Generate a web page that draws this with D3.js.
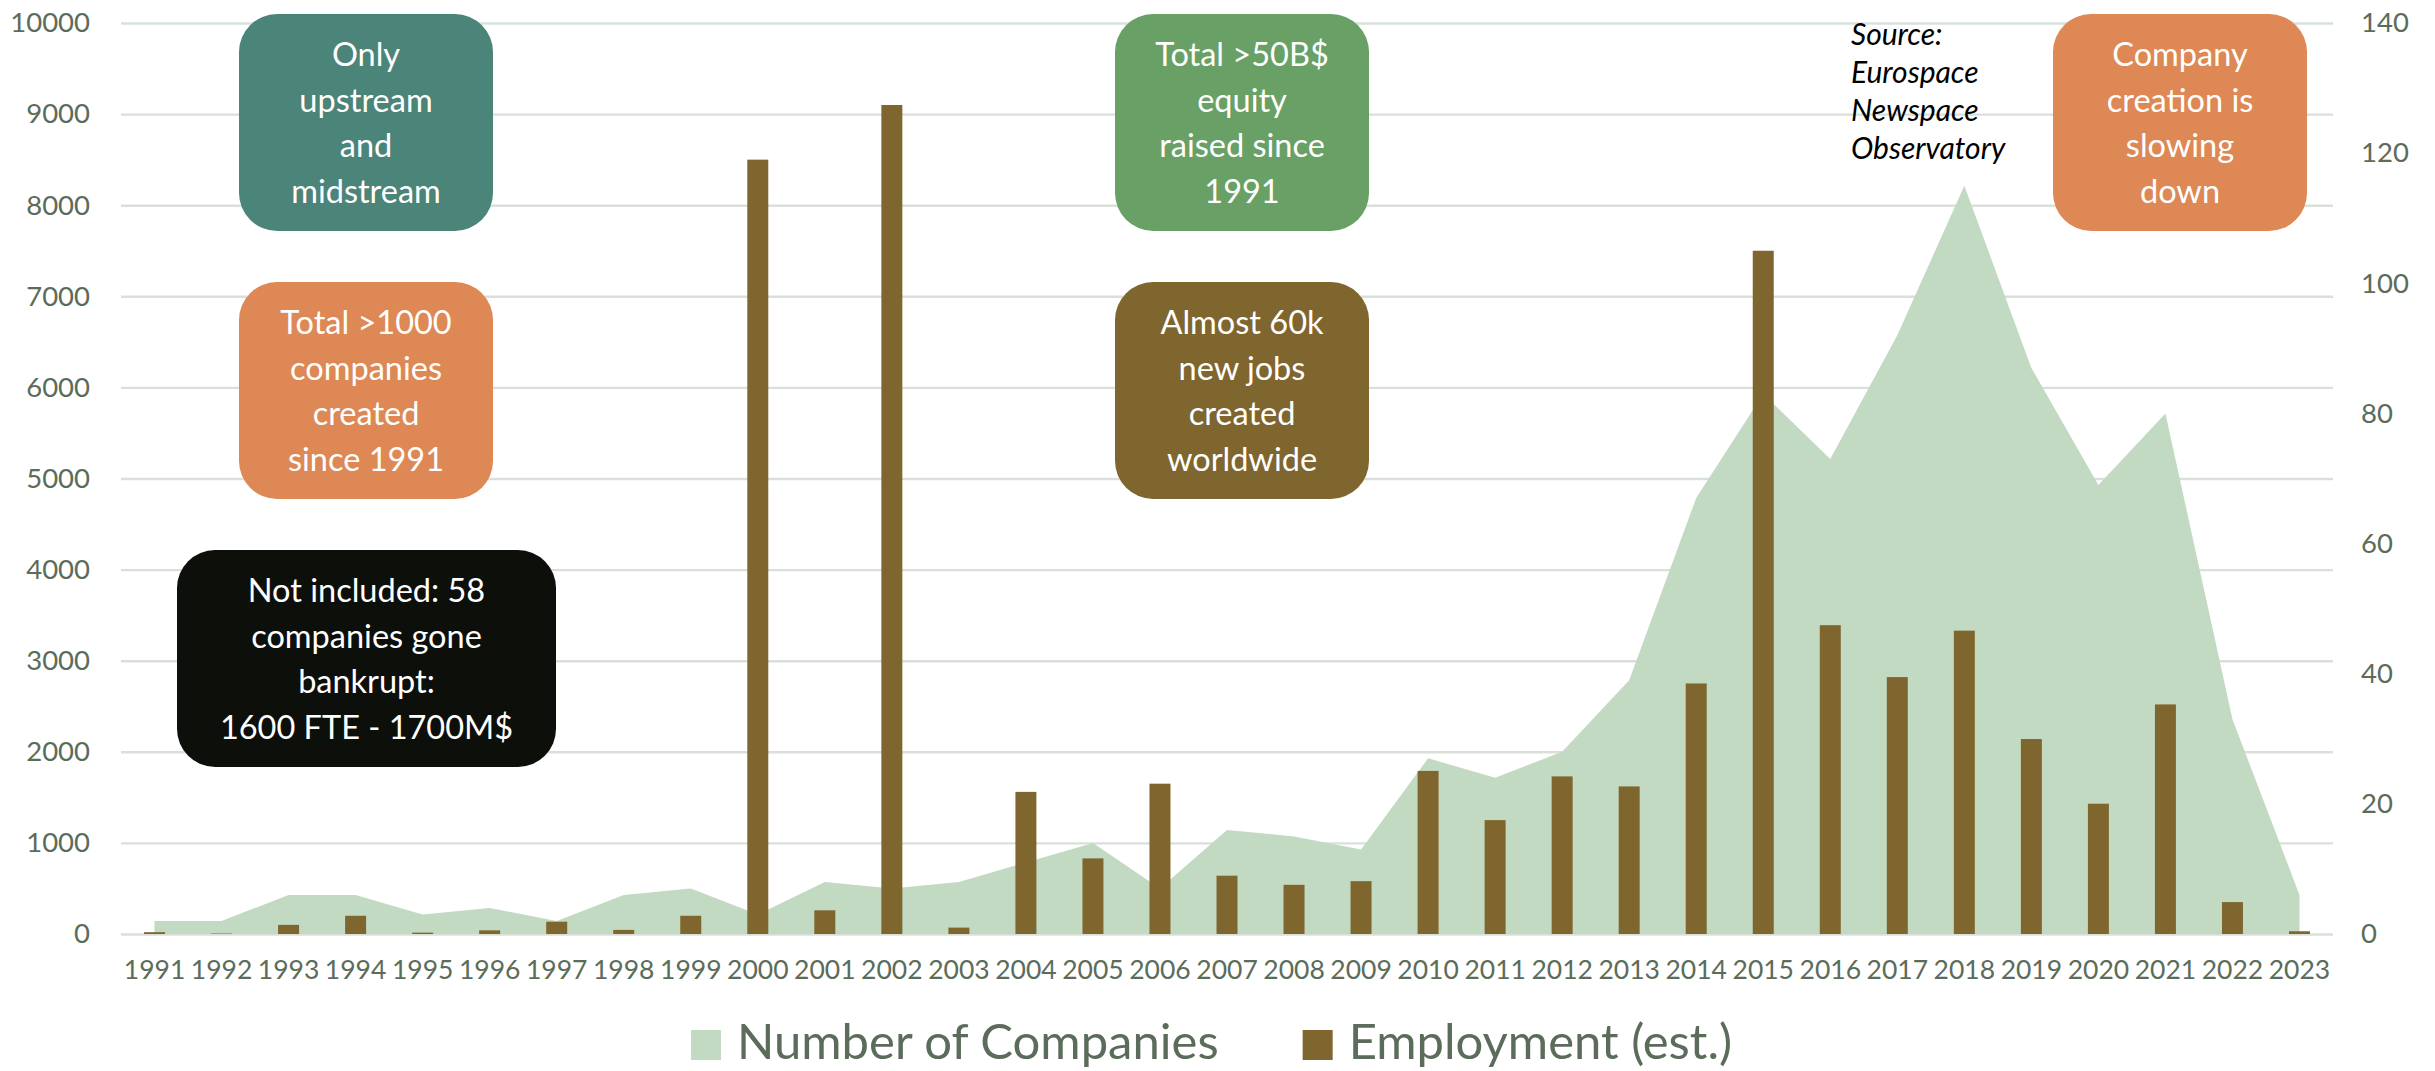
<!DOCTYPE html>
<html>
<head>
<meta charset="utf-8">
<script src="https://cdn.jsdelivr.net/npm/d3@7"></script>
<style>
  html, body { margin: 0; padding: 0; background: #ffffff; }
  svg { display: block; font-family: Lato, "Open Sans", sans-serif; }
</style>
</head>
<body>
<svg id="chart" width="2435" height="1071"></svg>
<script>
// Years on the category axis
const years = [1991, 1992, 1993, 1994, 1995, 1996, 1997, 1998, 1999, 2000,
               2001, 2002, 2003, 2004, 2005, 2006, 2007, 2008, 2009, 2010,
               2011, 2012, 2013, 2014, 2015, 2016, 2017, 2018, 2019, 2020,
               2021, 2022, 2023];

// New companies created per year (right axis)
const companies = [2, 2, 6, 6, 3, 4, 2, 6, 7, 3,
                   8, 7, 8, 11, 14, 7, 16, 15, 13, 27,
                   24, 28, 39, 67, 83, 73, 92, 115, 87, 69,
                   80, 33, 6];

// Estimated employment of those companies (left axis)
const employment = [20, 5, 100, 200, 15, 40, 135, 45, 200, 8500,
                    260, 9100, 70, 1560, 830, 1650, 640, 540, 580, 1790,
                    1250, 1730, 1620, 2750, 7500, 3390, 2820, 3330, 2140, 1430,
                    2520, 350, 30];

// Axis ticks
const leftTicks = [0, 1000, 2000, 3000, 4000, 5000, 6000, 7000, 8000, 9000, 10000];
const rightTicks = [0, 20, 40, 60, 80, 100, 120, 140];

// Series names for the legend
const seriesNames = ["Number of Companies", "Employment (est.)"];

// Call-out texts
const noteOnly = ["Only", "upstream", "and", "midstream"];
const noteTotal = ["Total >1000", "companies", "created", "since 1991"];
const noteBankrupt = ["Not included: 58", "companies gone", "bankrupt:", "1600 FTE - 1700M$"];
const noteEquity = ["Total >50B$", "equity", "raised since", "1991"];
const noteJobs = ["Almost 60k", "new jobs", "created", "worldwide"];
const noteSlowing = ["Company", "creation is", "slowing", "down"];
const sourceLines = ["Source:", "Eurospace", "Newspace", "Observatory"];

// ---- drawing ----
const svg = d3.select("#chart");
const plot = { left: 121, right: 2333, top: 23, bottom: 934 };
const axisColor = "#5c6c5a";
const gridColor = "#d9e0da";
const areaColor = "#c2d9c2";
const barColor = "#7f652e";

const x = d3.scaleBand()
  .domain(years)
  .range([plot.left, plot.right])
  .paddingInner(0.687)
  .paddingOuter(0.3435);
const cx = d => x(d) + x.bandwidth() / 2;

const yLeft = d3.scaleLinear().domain([0, 10000]).range([plot.bottom, plot.top]);
const yRight = d3.scaleLinear().domain([0, 140]).range([plot.bottom, plot.top]);

// Gridlines + left axis labels
const gLeft = svg.append("g")
  .attr("transform", `translate(${plot.left},0)`)
  .call(d3.axisLeft(yLeft).tickValues(leftTicks).tickSize(-(plot.right - plot.left)).tickPadding(31).tickFormat(d3.format("d")));
gLeft.select(".domain").remove();
gLeft.selectAll(".tick line").attr("stroke", gridColor).attr("stroke-width", 2.4);
gLeft.selectAll(".tick text").attr("fill", axisColor).attr("font-size", 27.5).attr("font-family", "Lato, sans-serif");

// Right axis labels
const gRight = svg.append("g")
  .attr("transform", `translate(${plot.right},0)`)
  .call(d3.axisRight(yRight).tickValues(rightTicks).tickSize(0).tickPadding(28).tickFormat(d3.format("d")));
gRight.select(".domain").remove();
gRight.selectAll(".tick text").attr("fill", axisColor).attr("font-size", 27.5).attr("font-family", "Lato, sans-serif");

// Companies area
const area = d3.area()
  .x((d, i) => cx(years[i]))
  .y0(plot.bottom)
  .y1(d => yRight(d));
svg.append("path")
  .datum(companies)
  .attr("d", area)
  .attr("fill", areaColor);

// Employment bars
svg.append("g").selectAll("rect")
  .data(employment)
  .join("rect")
  .attr("x", (d, i) => x(years[i]))
  .attr("width", x.bandwidth())
  .attr("y", d => yLeft(d))
  .attr("height", d => plot.bottom - yLeft(d))
  .attr("fill", barColor);

// Category axis labels
const gX = svg.append("g")
  .attr("transform", `translate(0,${plot.bottom})`)
  .call(d3.axisBottom(x).tickSize(0).tickPadding(26));
gX.select(".domain").remove();
gX.selectAll(".tick text").attr("fill", axisColor).attr("font-size", 26.5).attr("font-family", "Lato, sans-serif");

// Rounded call-out boxes
const boxes = [
  { lines: noteOnly,     fill: "#4b8478", x: 239,  y: 14,  w: 254, h: 217 },
  { lines: noteTotal,    fill: "#dd8855", x: 239,  y: 282, w: 254, h: 217 },
  { lines: noteBankrupt, fill: "#0d0f0b", x: 177,  y: 550, w: 379, h: 217 },
  { lines: noteEquity,   fill: "#68a065", x: 1115, y: 14,  w: 254, h: 217 },
  { lines: noteJobs,     fill: "#7f652e", x: 1115, y: 282, w: 254, h: 217 },
  { lines: noteSlowing,  fill: "#dd8855", x: 2053, y: 14,  w: 254, h: 217 }
];
const lineH = 45.5;
const gBoxes = svg.append("g");
boxes.forEach(b => {
  const g = gBoxes.append("g");
  g.append("rect")
    .attr("x", b.x).attr("y", b.y)
    .attr("width", b.w).attr("height", b.h)
    .attr("rx", 38).attr("ry", 38)
    .attr("fill", b.fill);
  const cy = b.y + b.h / 2;
  g.append("text")
    .attr("fill", "#ffffff")
    .attr("font-size", 32.5)
    .attr("text-anchor", "middle")
    .selectAll("tspan")
    .data(b.lines)
    .join("tspan")
    .attr("x", b.x + b.w / 2)
    .attr("y", (d, i) => cy + (i - (b.lines.length - 1) / 2) * lineH + 12)
    .text(d => d);
});

// Source note
svg.append("text")
  .attr("font-size", 30)
  .attr("font-style", "italic")
  .attr("fill", "#000000")
  .selectAll("tspan")
  .data(sourceLines)
  .join("tspan")
  .attr("x", 1851)
  .attr("y", (d, i) => 45 + i * 38)
  .text(d => d);

// Legend
const legend = svg.append("g");
const legendColors = [areaColor, barColor];
let lx = 691;
seriesNames.forEach((name, i) => {
  legend.append("rect")
    .attr("x", lx).attr("y", 1030)
    .attr("width", 30).attr("height", 30)
    .attr("fill", legendColors[i]);
  const t = legend.append("text")
    .attr("x", lx + 46).attr("y", 1059)
    .attr("font-size", 49)
    .attr("fill", axisColor)
    .text(name);
  lx = lx + 46 + t.node().getComputedTextLength() + 84;
});
</script>
</body>
</html>
